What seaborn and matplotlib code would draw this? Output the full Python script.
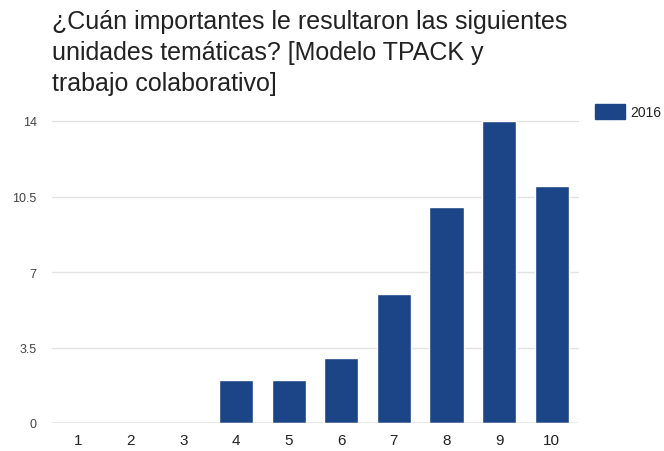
import matplotlib
matplotlib.use("Agg")
import matplotlib.pyplot as plt
import matplotlib.patches as mpatches
import seaborn as sns
import pandas as pd

# data
categories = ["1", "2", "3", "4", "5", "6", "7", "8", "9", "10"]
counts_2016 = [0, 0, 0, 2, 2, 3, 6, 10, 14, 11]
y_ticks = [0, 3.5, 7, 10.5, 14]
y_tick_labels = ["0", "3.5", "7", "10.5", "14"]
series_name = "2016"
title = "¿Cuán importantes le resultaron las siguientes\nunidades temáticas? [Modelo TPACK y\ntrabajo colaborativo]"

bar_color = "#1c4587"

df = pd.DataFrame({"category": categories, "count": counts_2016})

sns.set_style("white")
plt.rcParams["font.family"] = ["Liberation Sans", "DejaVu Sans"]

fig = plt.figure(figsize=(6.64, 4.52), dpi=100)
ax = fig.add_axes([52 / 664, 1 - 424 / 452, 526 / 664, 302 / 452])

sns.barplot(data=df, x="category", y="count", color=bar_color, width=0.65,
            saturation=1, ax=ax, zorder=3)

ax.set_ylim(0, 14)
ax.set_xlim(-0.5, len(categories) - 0.5)
ax.set_yticks(y_ticks)
ax.set_yticklabels(y_tick_labels)
for t in y_ticks[1:]:
    ax.axhline(t, color="#e3e3e3", lw=1, zorder=1, clip_on=False)
ax.axhline(0, color="#9e9e9e", lw=1, zorder=4)

for s in ax.spines.values():
    s.set_visible(False)
ax.tick_params(axis="y", length=0, pad=11, labelsize=9, labelcolor="#444444")
ax.tick_params(axis="x", length=0, pad=7, labelsize=11, labelcolor="#222222")
ax.set_xlabel("")
ax.set_ylabel("")

fig.text(52 / 664, 1 - 10 / 452, title, ha="left", va="top", fontsize=18,
         color="#222222", linespacing=1.38)

handle = mpatches.Patch(color=bar_color, label=series_name)
fig.legend(handles=[handle], loc="upper left", bbox_to_anchor=(582 / 664, 1 - 92 / 452),
           frameon=False, fontsize=10, handlelength=2.2, handleheight=1.3,
           handletextpad=0.4, labelcolor="#222222")

fig.savefig("out.png", dpi=100)
